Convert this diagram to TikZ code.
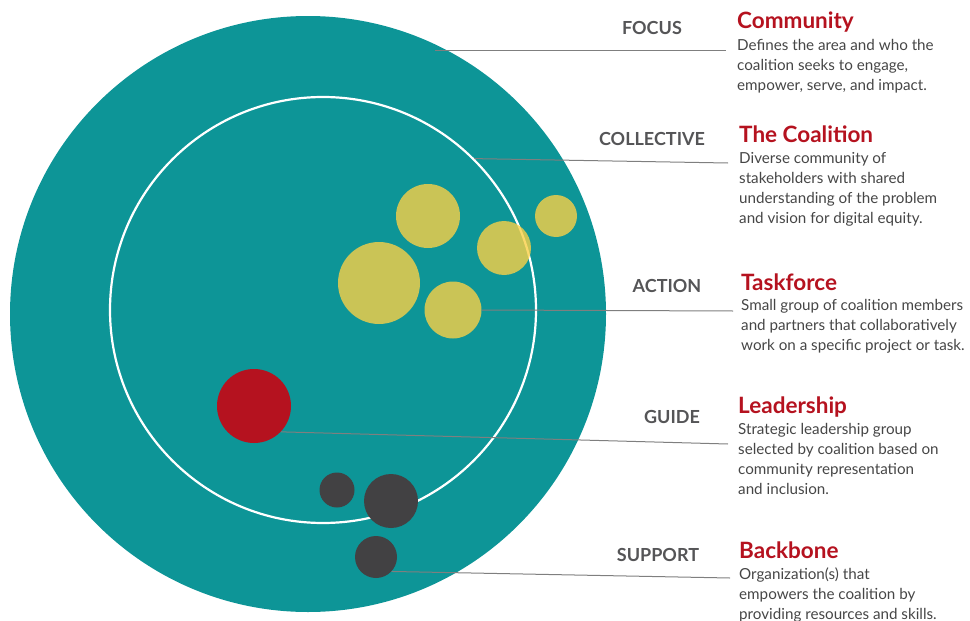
\documentclass[tikz,border=0pt]{standalone}
\usepackage{fontspec}
\setmainfont{Lato}
\usepackage{xcolor}
\usepackage{tikz}
\usetikzlibrary{positioning}
\definecolor{sea}{HTML}{0D9597}
\definecolor{sand}{HTML}{FAD046}
\definecolor{crimson}{HTML}{B5121F}
\definecolor{coal}{HTML}{424143}
\definecolor{rule}{HTML}{7F7F7F}
\definecolor{capgray}{HTML}{555557}
\definecolor{body}{HTML}{464646}
\tikzset{
  dot/.style={circle, inner sep=0pt, minimum size=#1},
  task/.style={fill=sand, fill opacity=0.8},
  link/.style={draw=rule, line width=1pt},
  tag/.style={text=capgray, font=\fontsize{18}{20}\selectfont\bfseries},
  head/.style={text=crimson, anchor=base west, inner sep=0pt, font=\fontsize{22.5}{24}\selectfont\bfseries},
  desc/.style={text=body, anchor=north west, inner sep=0pt, align=left, font=\fontsize{15.2}{20}\selectfont},
}

\begin{document}
\begin{tikzpicture}[x=1pt,y=-1pt]
  \useasboundingbox (0,0) rectangle (970,621);

  % community and coalition rings
  \node[dot=596pt, fill=sea] (outer) at (308,314) {};
  \node[dot=426pt, draw=white, line width=2.2pt] (ring) at (323,310) {};

  % taskforce
  \node[dot=64pt, task] (ya) at (428,216) {};
  \node[dot=42pt, task] (yb) at (556,216) {};
  \node[dot=54pt, task] (yc) at (504,248) {};
  \node[dot=82pt, task] (yd) at (379,283) {};
  \node[dot=57pt, task] (yt) at (453,310) {};

  % leadership and backbone
  \node[dot=74pt, fill=crimson] (lead) at (254,406) {};
  \node[dot=35pt, fill=coal] (ba) at (337,490) {};
  \node[dot=54pt, fill=coal] (bb) at (391,501) {};
  \node[dot=42pt, fill=coal] (back) at (376,557) {};

  % labels
  \node[tag] (focus) at (652,28) {FOCUS};
  \node[tag] (coll) at (652,139) {COLLECTIVE};
  \node[tag] (act) at (667,286) {ACTION};
  \node[tag] (guide) at (672,417) {GUIDE};
  \node[tag] (supp) at (658,555) {SUPPORT};

  \node[head] (comm) at (737,28) {Community};
  \node[desc] (commtxt) at (737,39.5) {Defines the area and who the\\coalition seeks to engage,\\empower, serve, and impact.};
  \node[head] (coal) at (739,142) {The Coalition};
  \node[desc] (coaltxt) at (739,152.5) {Diverse community of\\stakeholders with shared\\understanding of the problem\\and vision for digital equity.};
  \node[head] (taskf) at (741,290) {Taskforce};
  \node[desc] (tasktxt) at (741,299.5) {Small group of coalition members\\and partners that collaboratively\\work on a specific project or task.};
  \node[head] (leads) at (738,413) {Leadership};
  \node[desc] (leadtxt) at (738,423.5) {Strategic leadership group\\selected by coalition based on\\community representation\\and inclusion.};
  \node[head] (backb) at (739,558) {Backbone};
  \node[desc] (backtxt) at (739,567.5) {Organization(s) that\\empowers the coalition by\\providing resources and skills.};

  % leader lines
  \coordinate (fstart) at (435,50);
  \coordinate (fend) at (726,50);
  \coordinate (cend) at (728,163);
  \coordinate (tend) at (733,311);
  \coordinate (lend) at (728,444);
  \coordinate (bend) at (730,578);
  \draw[link] (fstart) -- (fend);
  \draw[link] (ring.45) -- (cend);
  \draw[link] (yt.east) -- (tend);
  \draw[link] (lead.-44) -- (lend);
  \draw[link] (back.-43) -- (bend);
\end{tikzpicture}
\end{document}
